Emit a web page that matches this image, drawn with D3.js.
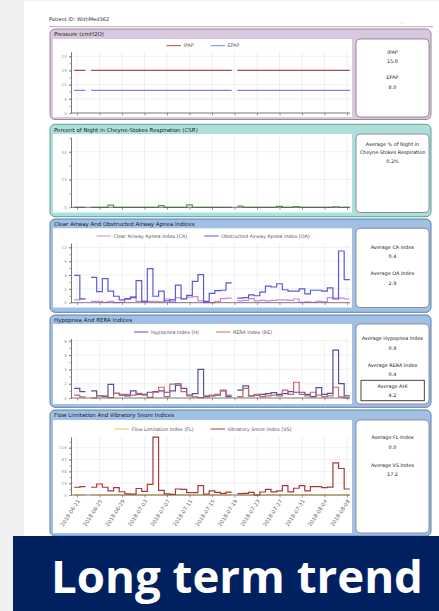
<!DOCTYPE html>
<html>
<head>
<meta charset="utf-8">
<script src="https://cdn.jsdelivr.net/npm/d3@7"></script>
<style>
  html, body { margin: 0; padding: 0; background: #f0f0f0; }
  svg { display: block; }
</style>
</head>
<body>
<svg width="439" height="611"></svg>
<script>
// one value per night, 2018-06-21 .. 2018-08-08 (null = no data)
let firstDay = new Date(Date.UTC(2018, 5, 21)),
  lastDay = new Date(Date.UTC(2018, 7, 8));
let days = d3.utcDay.range(firstDay, d3.utcDay.offset(lastDay, 1));

let tickLabels = ["2018-06-21", "2018-06-25", "2018-06-29", "2018-07-03", "2018-07-07", "2018-07-11",
  "2018-07-15", "2018-07-19", "2018-07-23", "2018-07-27", "2018-07-31", "2018-08-04", "2018-08-08"];

let ipap = [15, 15, null, 15, 15, 15, 15, 15, 15, 15, 15, 15, 15, 15, 15, 15, 15, 15, 15, 15, 15, 15, 15, 15, 15,
  15, 15, 15, null, 15, 15, 15, 15, 15, 15, 15, 15, 15, 15, 15, 15, 15, 15, 15, 15, 15, 15, 15, 15];
let epap = [8, 8, null, 8, 8, 8, 8, 8, 8, 8, 8, 8, 8, 8, 8, 8, 8, 8, 8, 8, 8, 8, 8, 8, 8,
  8, 8, 8, null, 8, 8, 8, 8, 8, 8, 8, 8, 8, 8, 8, 8, 8, 8, 8, 8, 8, 8, 8, 8];
let csr = [0, 0, null, 0, 0, 0, 1.5, 0, 0, 0, 0, 0, 0, 0, 0, 1.2, 0, 0, 0, 0, 1.8, 0, 0, 0, 0,
  0, 0, 0, null, 0.9, 0, 0, 0, 0, 0, 0, 0.6, 0, 0, 0.5, 0, 0, 0, 0, 0, 0, 0.4, 0, 0];
let ca = [0.6, 0.9, null, 0.3, 0.3, 0.1, 0.3, 0, 0.1, 0.7, 1.3, 0.3, 0.3, 0.3, 0.3, 0.2, 0.8, 0.2, 1.1, 0.9, 1.2, 1.3, 0.4, 0, 0,
  0.3, 0.9, 1.0, null, 0.4, 0.5, 0.9, 0.4, 0.5, 0.4, 0.5, 0.6, 0.6, 0.5, 0.8, 0.1, 0.2, 0.1, 0.3, 0.2, 1.1, 1.0, 1.0, 0.8];
let oa = [5.9, 0.8, null, 5.5, 2.4, 5.2, 2.5, 1.4, 0.6, 0.9, 1.1, 4.8, 0.3, 7.4, 1.4, 2.5, 0.4, 0.6, 3.8, 0.8, 1.6, 4.6, 6.1, 0.3, 2.0,
  2.6, 2.7, 4.3, null, 1.0, 1.1, 1.7, 1.5, 2.3, 3.6, 3.4, 4.1, 2.8, 2.5, 2.5, 3.0, 1.9, 2.7, 2.7, 2.5, 3.2, 0.8, 11.2, 5.0];
let hyp = [1.35, 0.9, null, 1.0, 0.3, 0.2, 1.9, 0.65, 0.4, 0.3, 1.0, 0.5, 0.5, 0.8, 0.9, 1.0, 0.8, 1.0, 1.8, 1.35, 0.4, 0.6, 4.0, 0.2, 0.3,
  0.4, 1.0, 0.2, null, 1.1, 1.7, 0.3, 0.4, 0.5, 0.6, 0.75, 0.5, 0.6, 0.9, 0.8, 0.8, 0.5, 0.2, 1.45, 0.5, 0.65, 6.7, 2.0, 0.3];
let rera = [0.4, 0.15, null, 0, 0.35, 0.3, 0.05, 0.65, 0.5, 0.5, 0.4, 0.65, 0.4, 0.1, 0.8, 1.5, 0.2, 1.95, 2.0, 0.9, 0.3, 0.15, 0.05, 0.3, 0.4,
  0.5, 1.1, 0.4, null, 0.2, 1.35, 0.3, 0.5, 0.2, 0.3, 0.4, 0.3, 1.1, 0.5, 2.2, 0.5, 0.3, 0.8, 0.4, 0.2, 0.3, 1.5, 0.15, 0];
let fl = [0, 0, null, 0, 0, 0, 0, 0, 0, 0, 0, 0, 0, 0, 0, 0, 0, 0, 0, 0, 0, 0, 0, 0, 0,
  0, 0, 0, null, 0, 0, 0, 0, 0, 0, 0, 0, 0, 0, 0, 0, 0, 0, 0, 0, 0, 0, 0, 0];
let vs = [19, 20.4, null, 19, 27, 19, 10, 18, 8, 3, 2, 16, 9, 26, 142, 11.5, 3, 1.5, 14.7, 14, 6, 6, 23, 2.5, 10,
  6.5, 4, 7, null, 3.5, 4, 6.5, 0, 7.4, 14, 7.5, 10, 23, 7.5, 16.5, 23, 10, 20.5, 20.5, 18, 19.5, 79, 65, 14.7];

let titles = ["Pressure (cmH2O)", "Percent of Night in Cheyne-Stokes Respiration (CSR)",
  "Clear Airway And Obstructed Airway Apnea Indices", "Hypopnea And RERA Indices",
  "Flow Limitation And Vibratory Snore Indices"];
let yTicks = [[0, 5, 10, 15, 20], [0, 20, 40], [0, 3, 6, 9, 12], [0, 2, 4, 6, 8], [0, 29, 58, 87, 116]];
let yMaxes = [21.6, 50.4, 12.93, 8.34, 143];
let seriesNames = [["IPAP", "EPAP"], ["CSR"], ["Clear Airway Apnea Index (CA)", "Obstructed Airway Apnea Index (OA)"],
  ["Hypopnea Index (H)", "RERA Index (RE)"], ["Flow Limitation Index (FL)", "Vibratory Snore Index (VS)"]];
let seriesValues = [[ipap, epap], [csr], [ca, oa], [hyp, rera], [fl, vs]];
let infoTexts = [["IPAP", "15.0", "EPAP", "8.0"],
  ["Average % of Night in", "Cheyne-Stokes Respiration", "0.2%"],
  ["Average CA Index", "0.4", "Average OA Index", "2.9"],
  ["Average Hypopnea Index", "0.9", "Average RERA Index", "0.4", "Average AHI", "4.2"],
  ["Average FL Index", "0.0", "Average VS Index", "17.2"]];

// layout / styling per panel
let layout = [
  {top: 29, bottom: 119.5, plotTop: 39, plotBottom: 117, axisTop: 51.7, axisBottom: 113, legendY: 45.7,
    fill: "#dac9de", stroke: "#9a88a0", colors: ["#a84e4e", "#8080e6"], infoY: [52.3, 61.7, 77.3, 87.3]},
  {top: 124.3, bottom: 216.7, plotTop: 134, plotBottom: 212.5, axisTop: 137.3, axisBottom: 207.3, legendY: null,
    fill: "#ade0dc", stroke: "#5e9e98", colors: ["#5a9a50"], infoY: [144.3, 152, 161.7]},
  {top: 219, bottom: 312.3, plotTop: 228.3, plotBottom: 307.5, axisTop: 243, axisBottom: 302.7, legendY: 236,
    fill: "#a0c0e4", stroke: "#5b7eae", colors: ["#d382e0", "#5a5ad8"], infoY: [247.3, 256.7, 273.3, 283.3]},
  {top: 315, bottom: 407.3, plotTop: 324, plotBottom: 404, axisTop: 338.3, axisBottom: 398, legendY: 332,
    fill: "#a0c0e4", stroke: "#5b7eae", colors: ["#5050a8", "#c46868"], infoY: [338.7, 348, 365.3, 374.3, 386.3, 395.7]},
  {top: 410, bottom: 536, plotTop: 420, plotBottom: 533, axisTop: 436.7, axisBottom: 495, legendY: 429,
    fill: "#a0c0e4", stroke: "#5b7eae", colors: ["#f0c040", "#a83838"], infoY: [437.7, 447.3, 465, 474.3]}
];

let svg = d3.select("svg");
let font = "DejaVu Sans, Verdana, sans-serif";

// page background
svg.append("rect").attr("x", 24).attr("y", 1).attr("width", 415).attr("height", 535).attr("fill", "#fff");

svg.append("text")
  .attr("x", 49).attr("y", 21)
  .attr("font-family", font).attr("font-size", 5.1).attr("fill", "#333")
  .text("Patient ID: WithMed362");
svg.append("text")
  .attr("x", 401).attr("y", 23)
  .attr("font-family", font).attr("font-size", 5).attr("fill", "#333")
  .text(",");
svg.append("line")
  .attr("x1", 49).attr("x2", 433).attr("y1", 26.7).attr("y2", 26.7)
  .attr("stroke", "#999").attr("stroke-width", 0.8);

let x = d3.scaleUtc()
  .domain([new Date(Date.UTC(2018, 5, 20)), new Date(Date.UTC(2018, 7, 8, 12))])
  .range([71.4, 349.8]);
let tickDates = tickLabels.map(function(s) { return new Date(s + "T00:00:00Z"); });

// each night is a flat step centred on its date
function stepPoints(values){
  let pts = [];
  for (let i = 0; i < values.length; i++) {
    if (values[i] === null) { pts.push(null); continue; }
    pts.push([d3.utcHour.offset(days[i], -12), values[i]]);
    pts.push([d3.utcHour.offset(days[i], 12), values[i]]);
  }
  return pts;
}

function drawPanel(p, k){
  let L = layout[k];
  let g = svg.append("g");

  g.append("rect")
    .attr("x", 50).attr("y", L.top).attr("width", 381).attr("height", L.bottom - L.top)
    .attr("rx", 5).attr("fill", L.fill).attr("stroke", L.stroke).attr("stroke-width", 1);
  g.append("text")
    .attr("x", 54).attr("y", L.top + 7.3)
    .attr("font-family", font).attr("font-size", 5.5).attr("fill", "#1a1a1a")
    .text(titles[k]);

  g.append("rect")
    .attr("x", 53).attr("y", L.plotTop).attr("width", 299).attr("height", L.plotBottom - L.plotTop)
    .attr("fill", "#fff");
  g.append("rect")
    .attr("x", 356).attr("y", L.plotTop).attr("width", 73).attr("height", L.plotBottom - L.plotTop)
    .attr("rx", 4).attr("fill", "#fff").attr("stroke", "#7a7a7a").attr("stroke-width", 0.8);

  let y = d3.scaleLinear().domain([0, yMaxes[k]]).range([L.axisBottom, L.axisTop]);

  // grid
  g.selectAll(".hgrid").data(yTicks[k].filter(function(d) { return d > 0; }))
    .enter().append("line")
    .attr("x1", 71).attr("x2", 350)
    .attr("y1", function(d) { return y(d); }).attr("y2", function(d) { return y(d); })
    .attr("stroke", "#e8e8e8").attr("stroke-width", 0.7);
  g.selectAll(".vgrid").data(tickDates)
    .enter().append("line")
    .attr("x1", function(d) { return x(d); }).attr("x2", function(d) { return x(d); })
    .attr("y1", L.axisTop).attr("y2", L.axisBottom)
    .attr("stroke", "#e8e8e8").attr("stroke-width", 0.7);

  // series
  let line = d3.line()
    .defined(function(d) { return d !== null; })
    .x(function(d) { return x(d[0]); })
    .y(function(d) { return y(d[1]); });
  seriesValues[k].forEach(function(vals, j){
    g.append("path")
      .attr("d", line(stepPoints(vals)))
      .attr("fill", "none")
      .attr("stroke", L.colors[j])
      .attr("stroke-width", 1.2);
  });

  // axes
  let step = yTicks[k][1] - yTicks[k][0];
  let minor = d3.range(step / 2, yMaxes[k], step / 2);
  let yMinor = g.append("g").attr("transform", "translate(71,0)")
    .call(d3.axisLeft(y).tickValues(minor).tickSize(1.5).tickSizeOuter(0).tickFormat(""));
  yMinor.select(".domain").remove();
  yMinor.selectAll("line").attr("stroke", "#666").attr("stroke-width", 0.6);

  let yAxis = g.append("g").attr("transform", "translate(71,0)")
    .call(d3.axisLeft(y).tickValues(yTicks[k]).tickSize(2).tickSizeOuter(0).tickPadding(2.3));
  yAxis.attr("font-family", font).attr("font-size", 4);
  yAxis.select(".domain").attr("stroke", "#555").attr("stroke-width", 0.8);
  yAxis.selectAll("line").attr("stroke", "#555").attr("stroke-width", 0.6);
  yAxis.selectAll("text").attr("fill", "#999");

  let xAxis = g.append("g").attr("transform", "translate(0," + L.axisBottom + ")")
    .call(d3.axisBottom(x).tickValues(tickDates).tickSize(2.5).tickSizeOuter(0).tickFormat(""));
  xAxis.select(".domain").attr("stroke", "#555").attr("stroke-width", 0.8)
    .attr("d", "M71,0H350");
  xAxis.selectAll("line").attr("stroke", "#555").attr("stroke-width", 0.6);

  if (k === layout.length - 1) {
    g.selectAll(".xlab").data(tickDates)
      .enter().append("text")
      .attr("transform", function(d, i) { return "translate(" + (x(d) + 1.5) + "," + (L.axisBottom + 5) + ") rotate(-57)"; })
      .attr("text-anchor", "end")
      .attr("dy", "0.35em")
      .attr("font-family", font).attr("font-size", 5.3).attr("fill", "#666")
      .text(function(d, i) { return tickLabels[i]; });
  }

  // legend
  if (L.legendY !== null) {
    let leg = g.append("g");
    let cx = 0;
    seriesNames[k].forEach(function(name, j){
      leg.append("line")
        .attr("x1", cx).attr("x2", cx + 14.5).attr("y1", 0).attr("y2", 0)
        .attr("stroke", L.colors[j]).attr("stroke-width", 1);
      let t = leg.append("text")
        .attr("x", cx + 17).attr("y", 0).attr("dy", "0.35em")
        .attr("font-family", font).attr("font-size", 4.8).attr("fill", "#555")
        .text(name);
      cx += 17 + t.node().getComputedTextLength() + 17;
    });
    let w = cx - 17;
    leg.attr("transform", "translate(" + (203 - w / 2) + "," + L.legendY + ")");
  }

  // info box
  if (k === 3) {
    g.append("rect")
      .attr("x", 361).attr("y", 380.3).attr("width", 63.3).attr("height", 20.4)
      .attr("fill", "#fff").attr("stroke", "#333").attr("stroke-width", 0.9);
  }
  g.selectAll(".info").data(infoTexts[k])
    .enter().append("text")
    .attr("x", 392.5)
    .attr("y", function(d, i) { return L.infoY[i]; })
    .attr("dy", "0.35em")
    .attr("text-anchor", "middle")
    .attr("font-family", font).attr("font-size", 4.9).attr("fill", "#222")
    .text(function(d) { return d; });
}

titles.forEach(drawPanel);

// banner
svg.append("rect").attr("x", 13).attr("y", 536).attr("width", 426).attr("height", 75).attr("fill", "#002060");
let banner = svg.append("text")
  .attr("x", 51).attr("y", 593)
  .attr("font-family", "Open Sans, Noto Sans, sans-serif").attr("font-weight", 700)
  .attr("font-size", 48).attr("fill", "#fff")
  .text("Long term trend");
// fit the title to the banner width instead of stretching it
let natural = banner.node().getComputedTextLength();
banner.attr("font-size", 48 * 372 / natural);
</script>
</body>
</html>
